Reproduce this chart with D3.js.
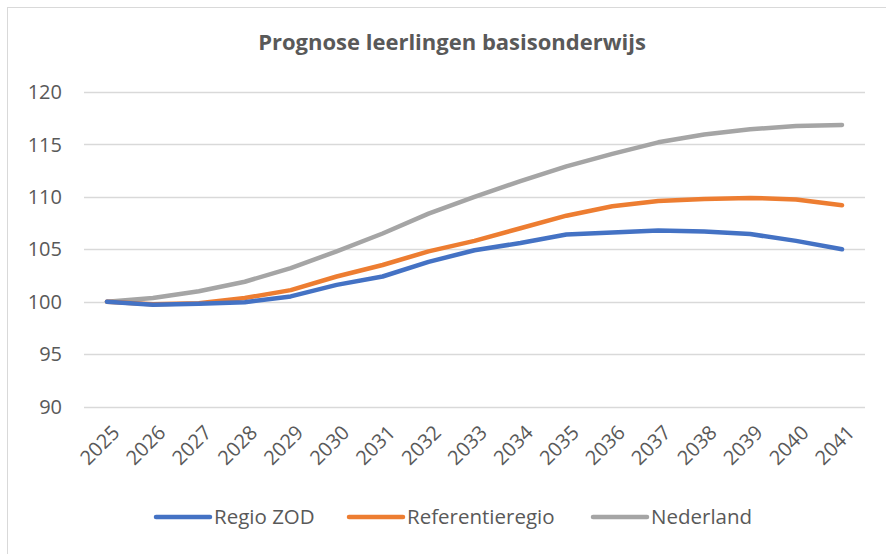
<!DOCTYPE html>
<html>
<head>
<meta charset="utf-8">
<script src="https://cdn.jsdelivr.net/npm/d3@7"></script>
<style>
  body { margin: 0; background: #fff; }
  svg text { font-family: "Open Sans", sans-serif; fill: #595959; }
</style>
</head>
<body>
<script>
// chart data
var years = ["2025", "2026", "2027", "2028", "2029", "2030", "2031", "2032", "2033",
             "2034", "2035", "2036", "2037", "2038", "2039", "2040", "2041"];
var regioZOD = [100, 99.7, 99.8, 99.95, 100.5, 101.6, 102.4, 103.8, 104.9,
                105.6, 106.4, 106.6, 106.8, 106.7, 106.45, 105.8, 105.0];
var referentieregio = [100, 99.75, 99.85, 100.35, 101.1, 102.4, 103.5, 104.8, 105.8,
                       107.0, 108.2, 109.1, 109.6, 109.8, 109.9, 109.75, 109.2];
var nederland = [100, 100.35, 101.0, 101.9, 103.2, 104.8, 106.5, 108.4, 110.0,
                 111.5, 112.9, 114.1, 115.2, 115.95, 116.45, 116.75, 116.85];
var yTicks = [90, 95, 100, 105, 110, 115, 120];
var seriesNames = ["Regio ZOD", "Referentieregio", "Nederland"];
var colors = ["#4472C4", "#ED7D31", "#A5A5A5"];

var width = 886, height = 554;

function drawChart() {
    var svg = d3.select("body").append("svg")
        .attr("width", width)
        .attr("height", height);

    // outer chart border (right/bottom fall outside the picture)
    svg.append("rect")
        .attr("x", 7.5).attr("y", 7.5)
        .attr("width", 900).attr("height", 600)
        .attr("fill", "none")
        .attr("stroke", "#d9d9d9");

    svg.append("text")
        .attr("x", 452).attr("y", 50)
        .attr("text-anchor", "middle")
        .attr("font-size", "22px")
        .attr("font-weight", "bold")
        .text("Prognose leerlingen basisonderwijs");

    var x = d3.scalePoint().domain(years).range([84, 865]).padding(0.5);
    var y = d3.scaleLinear().domain([90, 120]).range([406.5, 92]);

    // gridlines
    svg.append("g").selectAll("line")
        .data(yTicks).enter().append("line")
        .attr("x1", 84).attr("x2", 865)
        .attr("y1", function(d) { return Math.round(y(d)) + 0.5; })
        .attr("y2", function(d) { return Math.round(y(d)) + 0.5; })
        .attr("stroke", "#d9d9d9")
        .attr("stroke-width", 1.3);

    // y labels
    svg.append("g").selectAll("text")
        .data(yTicks).enter().append("text")
        .attr("x", 62)
        .attr("y", function(d) { return y(d); })
        .attr("dy", "0.36em")
        .attr("text-anchor", "end")
        .attr("font-size", "20px")
        .text(function(d) { return d; });

    // x labels, rotated
    svg.append("g").selectAll("text")
        .data(years).enter().append("text")
        .attr("transform", function(d) { return "translate(" + (x(d) + 4) + ",424) rotate(-45)"; })
        .attr("text-anchor", "end")
        .attr("dy", "0.7em")
        .attr("font-size", "20px")
        .text(function(d) { return d; });

    var line = d3.line()
        .x(function(d, i) { return x(years[i]); })
        .y(function(d) { return y(d); });

    var allSeries = [regioZOD, referentieregio, nederland];
    // draw Nederland first so ZOD ends on top
    [2, 1, 0].forEach(function(k) {
        svg.append("path")
            .datum(allSeries[k])
            .attr("d", line)
            .attr("fill", "none")
            .attr("stroke", colors[k])
            .attr("stroke-width", 4.5)
            .attr("stroke-linecap", "round")
            .attr("stroke-linejoin", "round");
    });

    // legend
    var legendX = [156, 349, 593];
    var legend = svg.append("g");
    seriesNames.forEach(function(name, i) {
        legend.append("line")
            .attr("x1", legendX[i]).attr("x2", legendX[i] + 54)
            .attr("y1", 517).attr("y2", 517)
            .attr("stroke", colors[i])
            .attr("stroke-width", 4.5)
            .attr("stroke-linecap", "round");
        legend.append("text")
            .attr("x", legendX[i] + 58).attr("y", 517)
            .attr("dy", "0.36em")
            .attr("font-size", "20.5px")
            .text(name);
    });
}

document.addEventListener("DOMContentLoaded", drawChart);
</script>
</body>
</html>
